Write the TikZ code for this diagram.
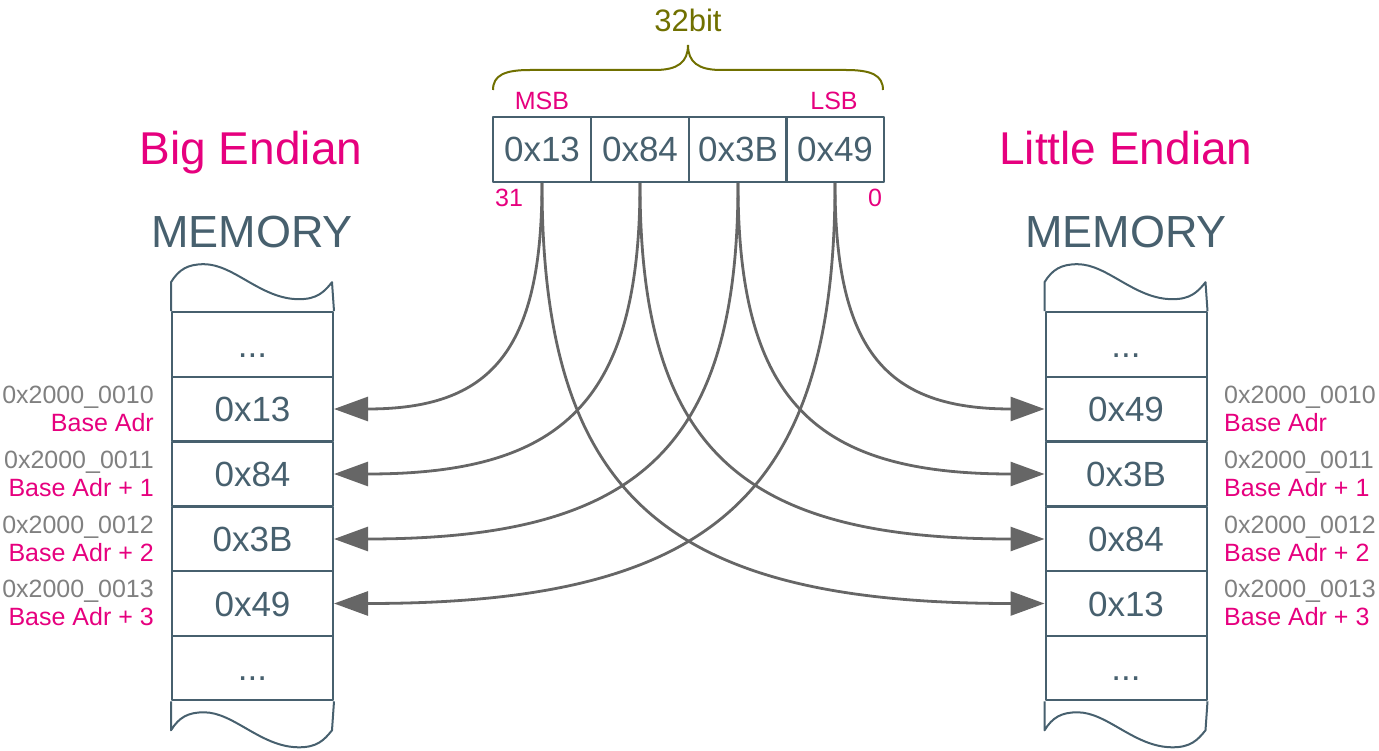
\documentclass[tikz,border=0pt]{standalone}
\usepackage{fontspec}
\setmainfont{Liberation Sans}
\usetikzlibrary{arrows.meta,calc}
\definecolor{boxc}{HTML}{47606E}
\definecolor{pinkc}{HTML}{E6007E}
\definecolor{grayc}{HTML}{808080}
\definecolor{olivec}{HTML}{707000}
\definecolor{arrc}{HTML}{666666}
\newcommand\myconn[2]{\draw[arr] (#1) .. controls ($(#1)!0.75!(#1 |- #2)$) and ($(#2)!0.75!(#1 |- #2)$) .. (#2);}
\begin{document}
\begin{tikzpicture}[x=1pt,y=-1pt,
  boxline/.style={draw=boxc, line width=2pt, line join=round},
  regcell/.style={boxline, minimum width=97.5pt, minimum height=65pt, inner sep=0pt, text=boxc, font=\fontsize{35}{42}\selectfont},
  memcell/.style={boxline, minimum width=161pt, minimum height=64.6pt, inner sep=0pt, text=boxc, text height=25pt, text depth=0pt, font=\fontsize{35}{42}\selectfont},
  title/.style={anchor=base, text=pinkc, font=\fontsize{46}{55}\selectfont},
  memtitle/.style={anchor=base, text=boxc, font=\fontsize{45}{54}\selectfont},
  small/.style={anchor=base, inner sep=0pt, font=\fontsize{25}{30}\selectfont},
  addr/.style={small, text=grayc},
  offs/.style={small, text=pinkc},
  arr/.style={draw=arrc, line width=2.8pt, -{Triangle[length=34pt,width=24pt]}},
  wave/.style={boxline}
]
\useasboundingbox (0,0) rectangle (1379,751);

% ---- 32-bit register ----
\node[regcell] (r1) at (542,149.5) {0x13};
\node[regcell] (r2) at (640,149.5) {0x84};
\node[regcell] (r3) at (738,149.5) {0x3B};
\node[regcell] (r4) at (835,149.5) {0x49};
\node[small, text=pinkc] (msb) at (542,110) {MSB};
\node[small, text=pinkc] (lsb) at (834,110) {LSB};
\node[small, text=pinkc] (b31) at (509,207) {31};
\node[small, text=pinkc] (b0) at (875,207) {0};
\draw[olivec, line width=2pt] (493,90) .. controls (493,75) and (505,70) .. (530,70) -- (655,70)
  .. controls (678,70) and (688,62) .. (688,45)
  .. controls (688,62) and (698,70) .. (721,70) -- (846,70)
  .. controls (871,70) and (883,75) .. (883,90);
\node[anchor=base, text=olivec, font=\fontsize{31}{37}\selectfont] (bits) at (688,32) {32bit};

% ---- titles ----
\node[title] (bigt) at (251,165) {Big Endian};
\node[title] (litt) at (1126,165) {Little Endian};
\node[memtitle] (memL) at (252,248) {MEMORY};
\node[memtitle] (memR) at (1126,248) {MEMORY};

% ---- left memory ----
\node[memcell] (L0) at (252.5,344.5) {...};
\node[memcell] (L1) at (252.5,409) {0x13};
\node[memcell] (L2) at (252.5,474) {0x84};
\node[memcell] (L3) at (252.5,539) {0x3B};
\node[memcell] (L4) at (252.5,603.5) {0x49};
\node[memcell] (L5) at (252.5,668) {...};
\draw[wave] (L0.north west) -- ++(0,-29)
  .. controls +(8,-13) and +(-16,0) .. ++(33,-18)
  .. controls +(30,0) and +(-38,0) .. ++(95,35)
  .. controls +(18,0) and +(-8,10) .. ++(33,-17) -- (L0.north east);
\draw[wave] (L5.south west) -- ++(0,29)
  .. controls +(8,-13) and +(-16,0) .. ++(33,-18)
  .. controls +(30,0) and +(-38,0) .. ++(95,35)
  .. controls +(18,0) and +(-8,10) .. ++(33,-17) -- (L5.south east);

% ---- right memory ----
\node[memcell] (R0) at (1126,344.5) {...};
\node[memcell] (R1) at (1126,409) {0x49};
\node[memcell] (R2) at (1126,474) {0x3B};
\node[memcell] (R3) at (1126,539) {0x84};
\node[memcell] (R4) at (1126,603.5) {0x13};
\node[memcell] (R5) at (1126,668) {...};
\draw[wave] (R0.north west) -- ++(0,-29)
  .. controls +(8,-13) and +(-16,0) .. ++(33,-18)
  .. controls +(30,0) and +(-38,0) .. ++(95,35)
  .. controls +(18,0) and +(-8,10) .. ++(33,-17) -- (R0.north east);
\draw[wave] (R5.south west) -- ++(0,29)
  .. controls +(8,-13) and +(-16,0) .. ++(33,-18)
  .. controls +(30,0) and +(-38,0) .. ++(95,35)
  .. controls +(18,0) and +(-8,10) .. ++(33,-17) -- (R5.south east);

% ---- address labels ----
\foreach \n/\a/\o/\y in {1/0010/Base Adr/409, 2/0011/Base Adr + 1/474, 3/0012/Base Adr + 2/539, 4/0013/Base Adr + 3/603.5}{
  \node[addr, anchor=base east] (la\n) at (154,\y-6) {0x2000\_\a};
  \node[offs, anchor=base east] (lo\n) at (154,\y+22) {\o};
  \node[addr, anchor=base west] (ra\n) at (1224,\y-6) {0x2000\_\a};
  \node[offs, anchor=base west] (ro\n) at (1224,\y+22) {\o};
}

% ---- connectors ----
\myconn{r1.south}{L1.east}
\myconn{r2.south}{L2.east}
\myconn{r3.south}{L3.east}
\myconn{r4.south}{L4.east}
\myconn{r4.south}{R1.west}
\myconn{r3.south}{R2.west}
\myconn{r2.south}{R3.west}
\myconn{r1.south}{R4.west}
\end{tikzpicture}
\end{document}
